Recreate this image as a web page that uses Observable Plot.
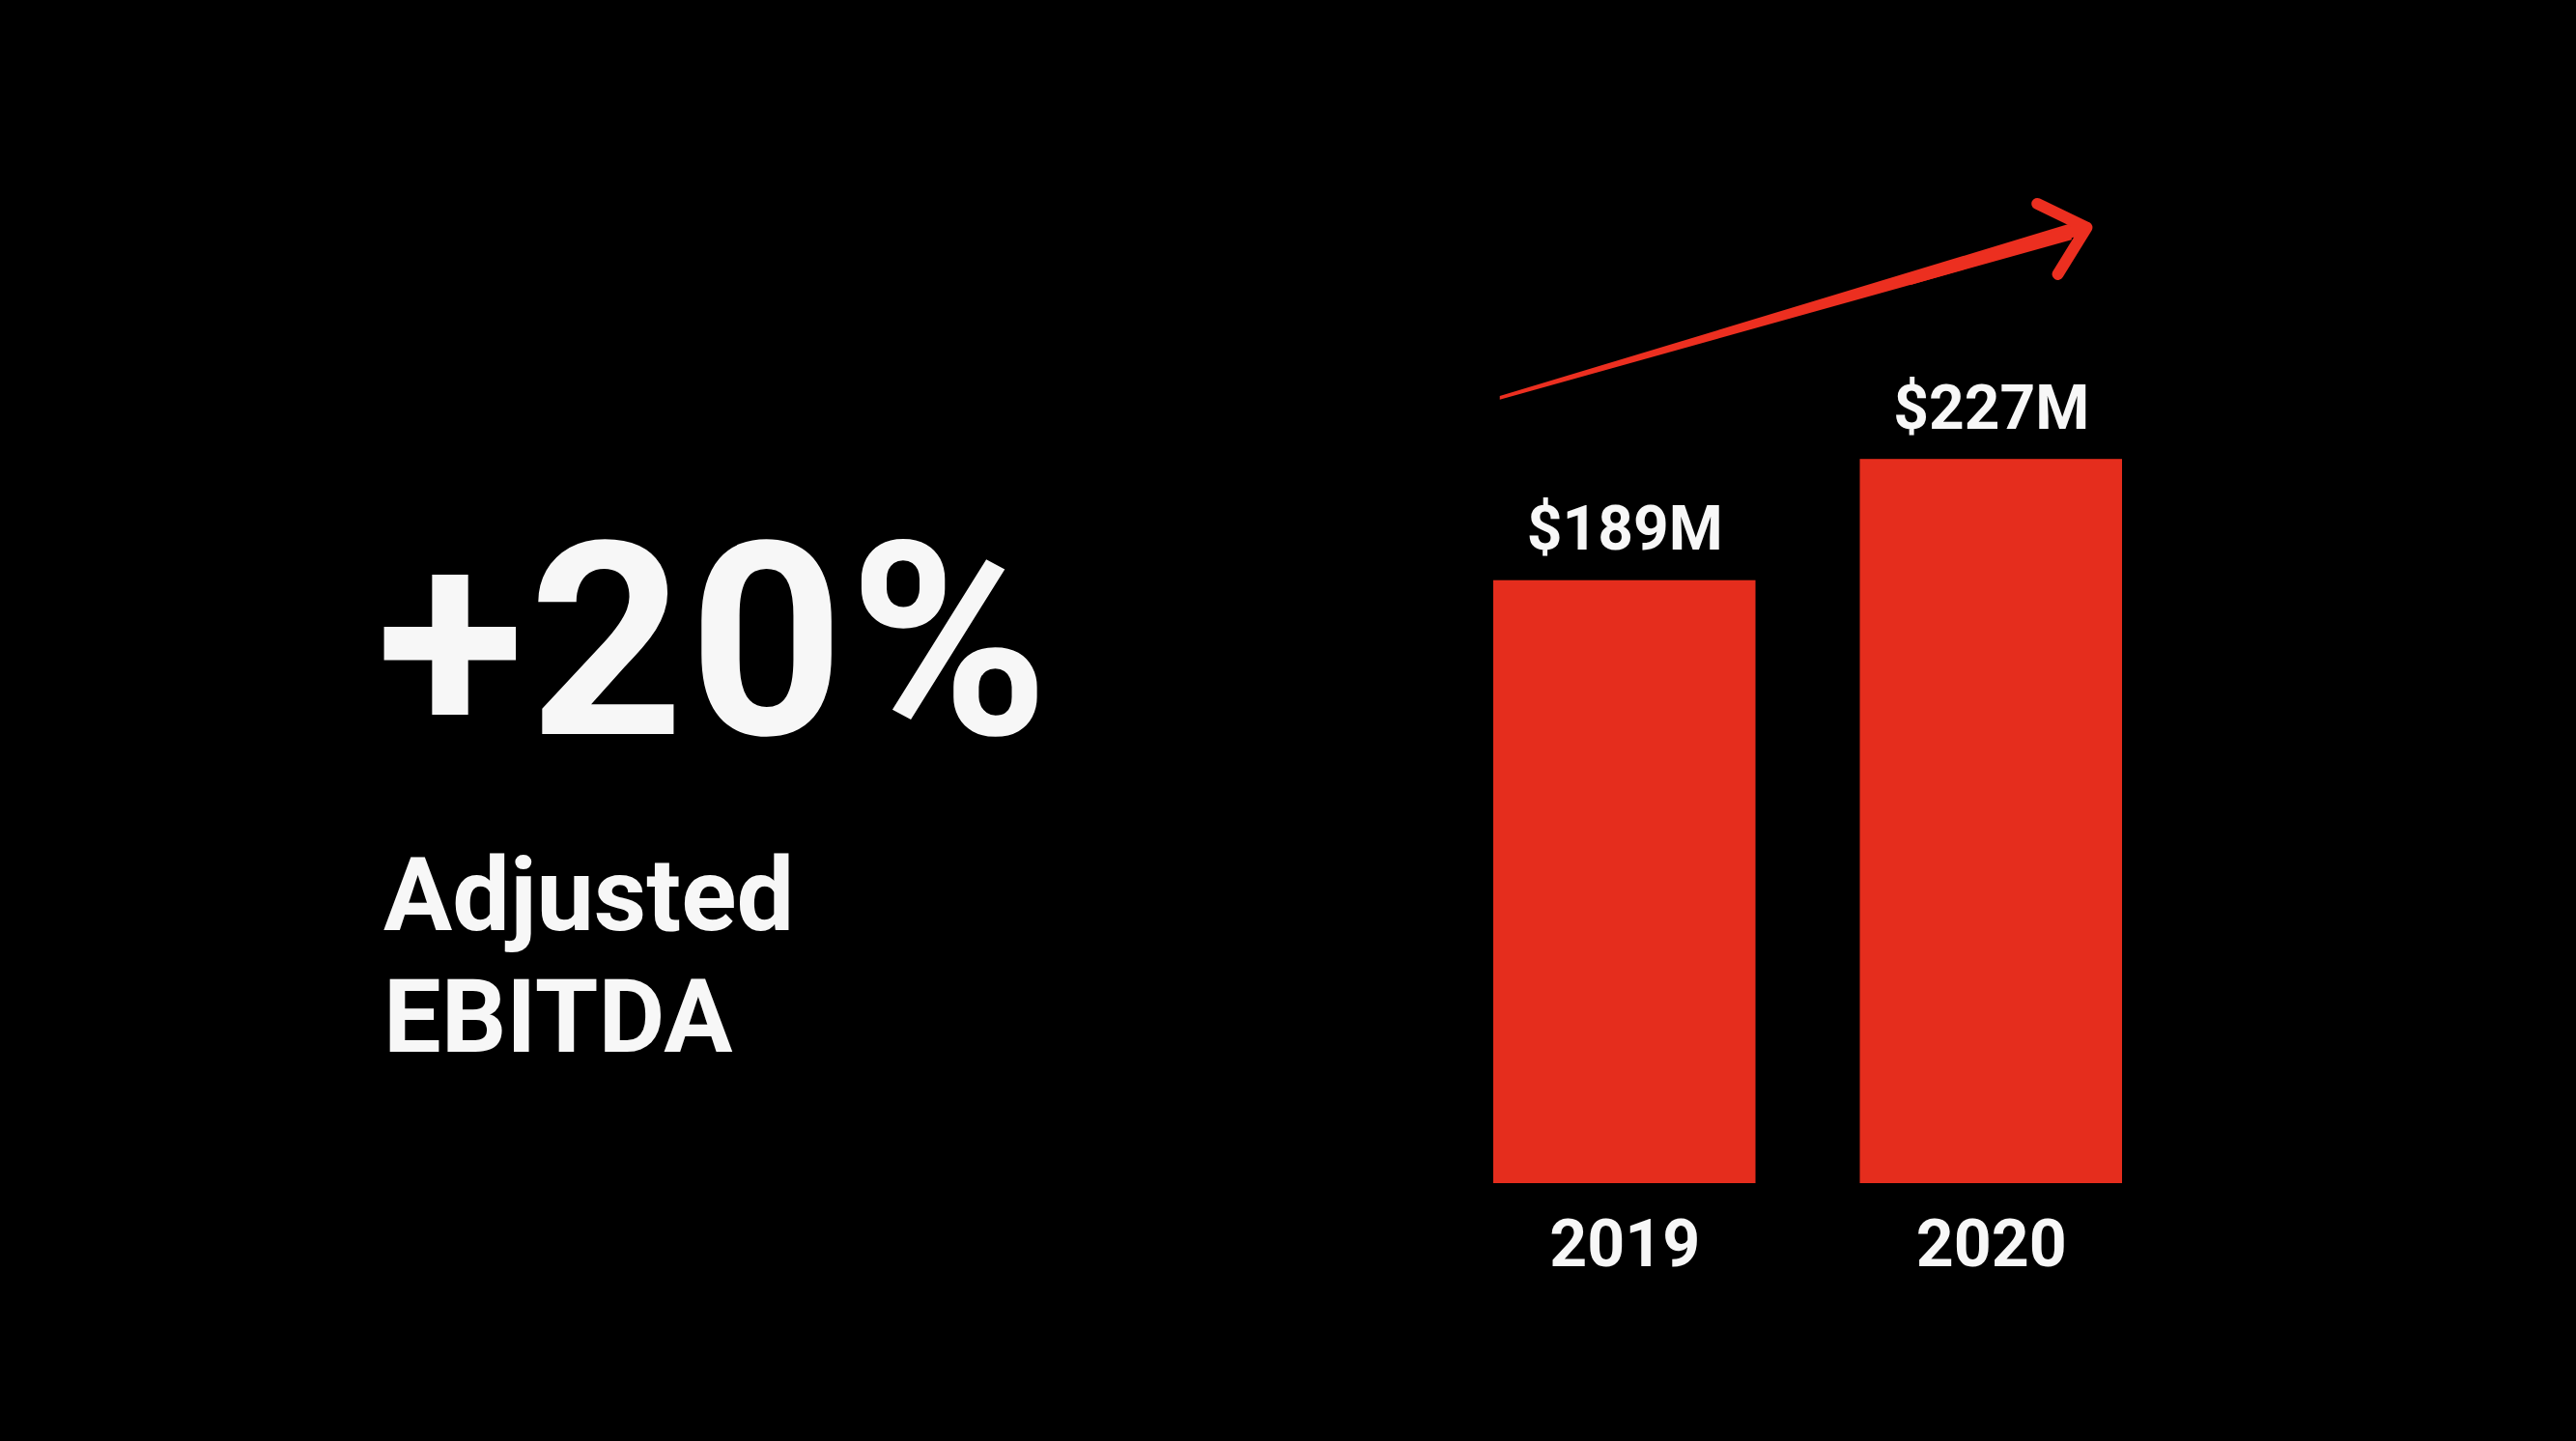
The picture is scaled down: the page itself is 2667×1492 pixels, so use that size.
<!DOCTYPE html>
<html>
<head>
<meta charset="utf-8">
<script src="https://cdn.jsdelivr.net/npm/d3@7"></script>
<script src="https://cdn.jsdelivr.net/npm/@observablehq/plot@0.6"></script>
<style>
  html, body { margin: 0; padding: 0; background: #000; }
  #page { position: relative; width: 2667px; height: 1492px; background: #000; overflow: hidden; font-family: Roboto, "Noto Sans", sans-serif; color: #f7f7f7; }
  #chart { position: absolute; left: 0; top: 0; }
  .big { position: absolute; left: 390px; top: 524px; font-size: 280px; line-height: 1; font-weight: 700; letter-spacing: 5px; }
  .sub { position: absolute; left: 397px; top: 864px; font-size: 106px; line-height: 126px; font-weight: 700; }
</style>
</head>
<body>
<div id="page">
  <div id="chart"></div>
  <div class="big" id="headline"></div>
  <div class="sub" id="subtitle"></div>
</div>
<script>
// Data
const years = [2019, 2020];
const values = [189, 227];
const valueLabels = ["$189M", "$227M"];
const headline = "+20%";
const subtitleLines = ["Adjusted", "EBITDA"];
// Trend arrow annotation (data units): tapered shaft, then head
const arrowShaft = [
  { year: 2018.66, lo: 245.6, hi: 246.7 },
  { year: 2020.22, lo: 295.7, hi: 300.9 }
];
const arrowHeadFrom = { year: 2019.78, value: 283.6 };
const arrowTip = { year: 2020.26, value: 299.7 };

const data = years.map((y, i) => ({ year: y, value: values[i], label: valueLabels[i] }));

document.getElementById("headline").textContent = headline;
document.getElementById("subtitle").innerHTML = subtitleLines.join("<br>");

const red = "#e52d1d";
const arrowRed = "#ec2f20";
const white = "#f7f7f7";

const chart = Plot.plot({
  width: 2667,
  height: 1492,
  marginLeft: 1492,
  marginRight: 416,
  marginTop: 168,
  marginBottom: 267,
  style: { background: "#000", color: white, fontFamily: "Roboto, sans-serif" },
  x: { type: "linear", domain: [2018.5, 2020.5], axis: null },
  y: { domain: [0, 320], axis: null },
  marks: [
    Plot.rectY(data, {
      x1: d => d.year - 0.5,
      x2: d => d.year + 0.5,
      y1: 0,
      y2: "value",
      insetLeft: 54,
      insetRight: 54,
      fill: red
    }),
    Plot.text(data, {
      x: "year",
      y: "value",
      text: "label",
      lineAnchor: "bottom",
      dy: -32,
      fontSize: 64,
      fontWeight: 700,
      fill: white
    }),
    Plot.axisX({
      ticks: years,
      tickFormat: d => String(d),
      tickSize: 0,
      tickPadding: 37,
      fontSize: 68,
      fontWeight: 700,
      color: white,
      label: null
    }),
    Plot.areaY(arrowShaft, {
      x: "year",
      y1: "lo",
      y2: "hi",
      fill: arrowRed,
      curve: "linear"
    }),
    Plot.arrow([{ x1: arrowHeadFrom.year, y1: arrowHeadFrom.value, x2: arrowTip.year, y2: arrowTip.value }], {
      x1: "x1", y1: "y1", x2: "x2", y2: "y2",
      stroke: arrowRed,
      strokeWidth: 12,
      headLength: 7.1,
      headAngle: 84,
      bend: 0,
      strokeLinecap: "round"
    })
  ]
});
document.getElementById("chart").appendChild(chart);
</script>
</body>
</html>
